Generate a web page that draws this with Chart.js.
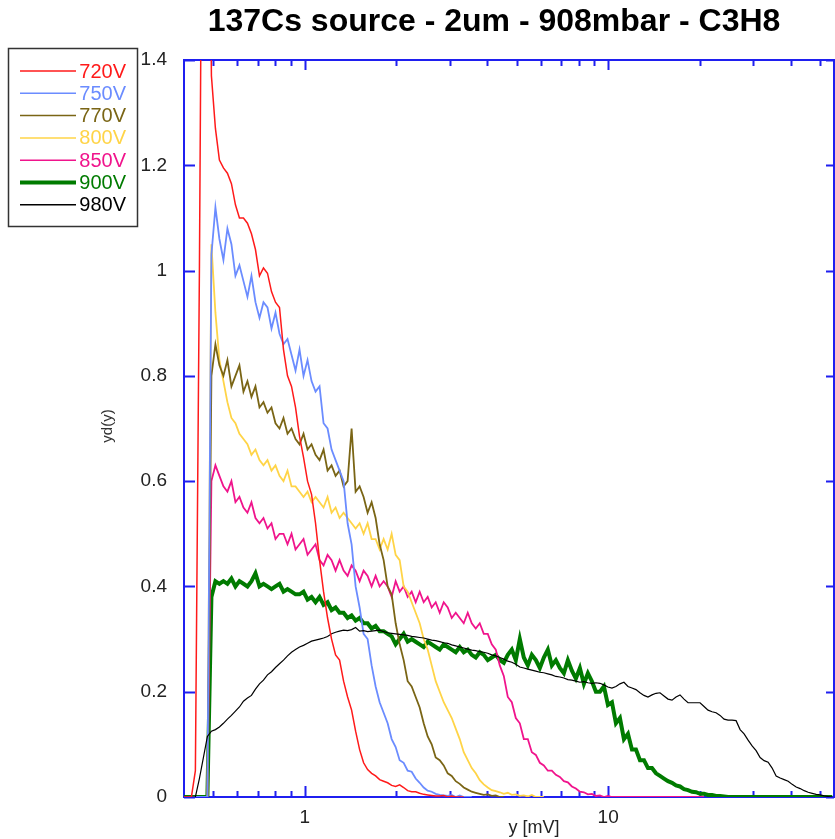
<!DOCTYPE html>
<html>
<head>
<meta charset="utf-8">
<title>137Cs source - 2um - 908mbar - C3H8</title>
<script src="https://cdn.jsdelivr.net/npm/chart.js@4.4.1/dist/chart.umd.min.js"></script>
<style>
body{margin:0;background:#fff}
.chart-box{width:835px;height:839px;position:relative}
</style>
</head>
<body>
<div class="chart-box"><canvas id="myChart"></canvas></div>
<script>
let chartTitle = "137Cs source - 2um - 908mbar - C3H8"
let xTitle = "y [mV]"
let yTitle = "yd(y)"
let labels = ["720V","750V","770V","800V","850V","900V","980V"]
let colors = ["#ff1a1a","#6b8cff","#7a6515","#ffd447","#f0148c","#007b00","#000000"]
let widths = [1.5,1.8,1.8,1.8,1.8,4,1.2]
let drawOrder = [0,2,3,4,5,6,1]

// bin centres, mV
let mv = [0.3981,0.4104,0.4231,0.4361,0.4496,0.4634,0.4777,0.4925,0.5077,0.5233,
0.5395,0.5561,0.5733,0.5910,0.6092,0.6281,0.6474,0.6674,0.6880,0.7093,
0.7311,0.7537,0.7770,0.8009,0.8257,0.8511,0.8774,0.9045,0.9324,0.9612,
0.9908,1.0214,1.0529,1.0854,1.1189,1.1535,1.1891,1.2258,1.2636,1.3026,
1.3428,1.3843,1.4270,1.4711,1.5165,1.5631,1.6114,1.6611,1.7124,1.7652,
1.8197,1.8759,1.9338,1.9935,2.0550,2.1184,2.1838,2.2512,2.3207,2.3923,
2.4660,2.5421,2.6206,2.7015,2.7849,2.8708,2.9594,3.0508,3.1449,3.2420,
3.3420,3.4452,3.5515,3.6611,3.7741,3.8905,4.0106,4.1344,4.2620,4.3935,
4.5290,4.6688,4.8129,4.9615,5.1146,5.2723,5.4350,5.6028,5.7757,5.9540,
6.1376,6.3270,6.5223,6.7236,6.9311,7.1450,7.3655,7.5928,7.8271,8.0687,
8.3176,8.5743,8.8389,9.1117,9.3929,9.6828,9.9816,10.290,10.607,10.935,
11.272,11.620,11.979,12.348,12.729,13.122,13.527,13.945,14.375,14.819,
15.276,15.748,16.234,16.735,17.251,17.783,18.332,18.898,19.481,20.082,
20.701,21.340,21.999,22.678,23.378,24.099,24.843,25.610,26.400,27.215,
28.054,28.920,29.813,30.733,31.682,32.659,33.667,34.706,35.777,36.881,
38.019,39.193,40.402,41.649,42.935,44.259,45.625,47.033,48.485,49.981,
51.523,53.113,54.753]

let v720 = [0,0,0,0.05,1.0,2.2,2.2,1.37,1.27,1.21,
1.195,1.185,1.165,1.125,1.10,1.10,1.09,1.07,1.04,0.99,
1.005,0.995,0.96,0.94,0.93,0.85,0.80,0.78,0.74,0.685,
0.645,0.60,0.575,0.52,0.45,0.39,0.34,0.30,0.27,0.26,
0.22,0.19,0.165,0.125,0.09,0.065,0.052,0.045,0.04,0.033,
0.03,0.027,0.022,0.02,0.023,0.018,0.012,0.01,0.01,0.007,
0.005,0.004,0.003,0.002,0.002,0.003,0,0.002,0,0,
0]

let v750 = [0,0,0,0,0,0,0,1.03,1.12,1.06,
1.02,1.08,1.05,0.99,1.01,0.98,0.95,0.99,0.94,0.91,
0.94,0.93,0.89,0.92,0.88,0.86,0.87,0.84,0.81,0.85,
0.80,0.83,0.79,0.77,0.78,0.71,0.70,0.66,0.64,0.62,
0.60,0.52,0.48,0.40,0.36,0.31,0.30,0.25,0.21,0.18,
0.16,0.14,0.11,0.095,0.07,0.065,0.05,0.048,0.035,0.027,
0.018,0.012,0.01,0.006,0.004,0.003,0.002,0.004,0,0.003,
0,0,0]

let v770 = [0,0,0,0,0,0,0,0.80,0.86,0.82,
0.80,0.83,0.78,0.80,0.82,0.77,0.79,0.76,0.78,0.74,
0.75,0.73,0.74,0.71,0.70,0.72,0.69,0.70,0.68,0.67,
0.69,0.66,0.67,0.65,0.64,0.66,0.62,0.63,0.61,0.62,
0.59,0.60,0.70,0.58,0.59,0.57,0.54,0.56,0.53,0.48,
0.45,0.40,0.385,0.33,0.29,0.26,0.22,0.21,0.19,0.17,
0.14,0.115,0.10,0.075,0.07,0.06,0.045,0.04,0.03,0.025,
0.018,0.014,0.01,0.008,0.006,0.004,0.005,0.002,0.003,0,
0]

let v800 = [0,0,0,0,0,0,0,1.05,0.92,0.83,
0.79,0.75,0.72,0.71,0.69,0.68,0.67,0.65,0.66,0.64,
0.63,0.64,0.62,0.63,0.61,0.60,0.62,0.59,0.59,0.58,
0.57,0.58,0.56,0.57,0.56,0.55,0.57,0.54,0.55,0.53,
0.54,0.53,0.52,0.51,0.52,0.50,0.52,0.49,0.49,0.47,
0.49,0.47,0.50,0.46,0.45,0.40,0.39,0.37,0.35,0.33,
0.30,0.28,0.25,0.22,0.20,0.18,0.165,0.15,0.13,0.11,
0.085,0.07,0.055,0.045,0.032,0.024,0.018,0.013,0.011,0.009,
0.006,0.008,0.004,0.005,0.002,0.003,0.001,0.004,0,0,
0]

let v850 = [0,0,0,0,0,0,0,0.60,0.63,0.61,
0.59,0.58,0.60,0.56,0.57,0.55,0.54,0.56,0.53,0.52,
0.53,0.51,0.52,0.49,0.50,0.50,0.48,0.50,0.47,0.48,
0.49,0.46,0.47,0.48,0.45,0.44,0.46,0.45,0.43,0.45,
0.43,0.42,0.44,0.43,0.41,0.43,0.42,0.40,0.42,0.40,
0.41,0.40,0.38,0.41,0.39,0.40,0.38,0.39,0.37,0.39,
0.37,0.38,0.36,0.37,0.35,0.37,0.36,0.34,0.35,0.34,
0.33,0.35,0.33,0.32,0.33,0.31,0.31,0.29,0.28,0.25,
0.23,0.19,0.18,0.15,0.14,0.11,0.11,0.085,0.08,0.065,
0.06,0.05,0.05,0.042,0.038,0.03,0.028,0.02,0.016,0.01,
0.009,0.005,0.006,0.002,0.003,0,0.002,0,0,0,
0,0,0,0,0,0,0,0,0,0,
0,0,0,0,0,0,0,0,0,0,
0]

let v900 = [0,0,0,0,0,0,0,0.38,0.41,0.405,
0.41,0.405,0.415,0.40,0.41,0.405,0.40,0.41,0.425,0.40,
0.405,0.40,0.395,0.40,0.405,0.39,0.395,0.39,0.385,0.385,
0.39,0.375,0.38,0.37,0.38,0.365,0.37,0.355,0.36,0.35,
0.35,0.34,0.345,0.335,0.34,0.33,0.33,0.32,0.325,0.315,
0.315,0.31,0.305,0.29,0.30,0.31,0.295,0.30,0.295,0.29,
0.285,0.295,0.29,0.285,0.28,0.29,0.285,0.28,0.275,0.285,
0.275,0.28,0.27,0.265,0.275,0.27,0.26,0.265,0.27,0.26,
0.255,0.27,0.28,0.26,0.30,0.265,0.25,0.27,0.26,0.245,
0.265,0.28,0.25,0.26,0.245,0.235,0.26,0.24,0.225,0.245,
0.215,0.235,0.22,0.20,0.20,0.21,0.175,0.18,0.14,0.15,
0.11,0.12,0.09,0.09,0.07,0.07,0.055,0.055,0.045,0.04,
0.035,0.03,0.027,0.022,0.02,0.015,0.013,0.01,0.009,0.006,
0.006,0.004,0.004,0.002,0.002,0.001,0,0,0,0,
0,0,0,0,0,0,0,0,0,0,
0,0,0,0,0,0,0,0,0,0,
0,0,0]

let v980 = [0,0,0,0,0.035,0.075,0.115,0.125,0.128,0.133,
0.14,0.148,0.155,0.163,0.171,0.182,0.188,0.193,0.205,0.215,
0.222,0.232,0.238,0.246,0.253,0.26,0.268,0.275,0.28,0.285,
0.288,0.292,0.296,0.298,0.300,0.302,0.305,0.31,0.313,0.315,
0.317,0.316,0.318,0.322,0.315,0.316,0.314,0.315,0.316,0.317,
0.314,0.312,0.311,0.31,0.309,0.308,0.307,0.305,0.304,0.303,
0.302,0.300,0.298,0.297,0.295,0.293,0.292,0.289,0.287,0.285,
0.283,0.281,0.279,0.278,0.276,0.275,0.273,0.27,0.268,0.265,
0.262,0.258,0.256,0.252,0.247,0.245,0.243,0.241,0.239,0.237,
0.236,0.234,0.232,0.229,0.228,0.226,0.223,0.222,0.22,0.218,
0.219,0.217,0.216,0.217,0.216,0.213,0.209,0.207,0.21,0.215,
0.218,0.21,0.207,0.204,0.198,0.193,0.19,0.194,0.197,0.198,
0.192,0.186,0.184,0.19,0.194,0.186,0.179,0.179,0.179,0.179,
0.172,0.165,0.162,0.16,0.155,0.148,0.146,0.146,0.145,0.128,
0.12,0.108,0.097,0.088,0.075,0.069,0.066,0.055,0.04,0.036,
0.033,0.03,0.024,0.019,0.016,0.012,0.009,0.007,0.005,0.004,
0.002,0.001,0]

let series = [v720, v750, v770, v800, v850, v900, v980]
let xTicks = [1, 10]
let xMinor = [0.5,0.6,0.7,0.8,0.9,2,3,4,5,6,7,8,9,20,30,40,50]
let yTicks = [0,0.2,0.4,0.6,0.8,1,1.2,1.4]

let axisBlue = "#1f1ff0"
let font = "Liberation Sans, Arial, sans-serif"

let datasets = labels.map((label, k) => ({
    label: label,
    data: series[k].map((v, i) => ({x: mv[i], y: v})),
    borderColor: colors[k],
    backgroundColor: colors[k],
    borderWidth: widths[k],
    pointRadius: 0,
    tension: 0,
    order: drawOrder[k]
}))

const frame = {
    id: "frame",
    beforeDatasetsDraw(chart) {
        const {ctx, chartArea: a, scales: {x, y}} = chart
        ctx.save()
        ctx.strokeStyle = axisBlue
        ctx.lineWidth = 2
        ctx.strokeRect(a.left, a.top, a.right - a.left, a.bottom - a.top)
        ctx.beginPath()
        xTicks.forEach(v => {
            let px = Math.round(x.getPixelForValue(v)) + 0.5
            ctx.moveTo(px, a.bottom); ctx.lineTo(px, a.bottom - 11)
            ctx.moveTo(px, a.top); ctx.lineTo(px, a.top + 10)
        })
        xMinor.forEach(v => {
            let px = Math.round(x.getPixelForValue(v)) + 0.5
            ctx.moveTo(px, a.bottom); ctx.lineTo(px, a.bottom - 6)
            ctx.moveTo(px, a.top); ctx.lineTo(px, a.top + 6)
        })
        yTicks.forEach(v => {
            let py = Math.round(y.getPixelForValue(v)) + 0.5
            ctx.moveTo(a.left, py); ctx.lineTo(a.left + 11, py)
            ctx.moveTo(a.right, py); ctx.lineTo(a.right - 8, py)
        })
        ctx.stroke()
        ctx.restore()
    },
    afterDraw(chart) {
        const {ctx} = chart
        ctx.save()
        ctx.fillStyle = "#000"
        ctx.textAlign = "center"
        ctx.textBaseline = "alphabetic"
        ctx.font = "bold 32px " + font
        ctx.fillText(chartTitle, 494, 31)
        ctx.fillStyle = "#222"
        ctx.font = "18px " + font
        ctx.fillText(xTitle, 534, 833)
        ctx.translate(108, 426)
        ctx.rotate(-Math.PI / 2)
        ctx.font = "15px " + font
        ctx.fillStyle = "#333"
        ctx.textBaseline = "middle"
        ctx.fillText(yTitle, 0, 0)
        ctx.restore()

        // legend box
        ctx.save()
        ctx.strokeStyle = "#333"
        ctx.lineWidth = 1.5
        ctx.strokeRect(8.5, 48.5, 129, 178)
        ctx.font = "20px " + font
        ctx.textAlign = "right"
        ctx.textBaseline = "middle"
        chart.data.datasets.forEach((ds, k) => {
            let ry = 71 + k * 22.3
            ctx.strokeStyle = ds.borderColor
            ctx.lineWidth = k === 5 ? 4 : 1.5
            ctx.beginPath()
            ctx.moveTo(20, ry); ctx.lineTo(76, ry)
            ctx.stroke()
            ctx.fillStyle = ds.borderColor
            ctx.fillText(ds.label, 126, ry + 1)
        })
        ctx.restore()
    }
}

new Chart("myChart", {
    type: "line",
    data: {datasets: datasets},
    options: {
        responsive: true,
        maintainAspectRatio: false,
        animation: false,
        devicePixelRatio: 1,
        layout: {padding: {top: 60, left: 103, right: 1, bottom: 0}},
        plugins: {
            legend: {display: false},
            tooltip: {enabled: false},
            title: {display: false}
        },
        scales: {
            x: {
                type: "logarithmic",
                min: 0.4,
                max: 55.5,
                grid: {display: false, drawTicks: false},
                border: {display: false},
                afterBuildTicks: s => { s.ticks = xTicks.map(v => ({value: v})) },
                afterFit: s => { s.height = 42 },
                ticks: {
                    padding: 9,
                    color: "#222",
                    maxRotation: 0,
                    autoSkip: false,
                    font: {family: font, size: 19},
                    callback: v => String(v)
                }
            },
            y: {
                min: 0,
                max: 1.4,
                grid: {display: false, drawTicks: false},
                border: {display: false},
                afterBuildTicks: s => { s.ticks = yTicks.map(v => ({value: v})) },
                afterFit: s => { s.width = 81 },
                ticks: {
                    padding: 17,
                    color: "#222",
                    autoSkip: false,
                    font: {family: font, size: 19},
                    callback: v => String(v)
                }
            }
        }
    },
    plugins: [frame]
})
</script>
</body>
</html>
